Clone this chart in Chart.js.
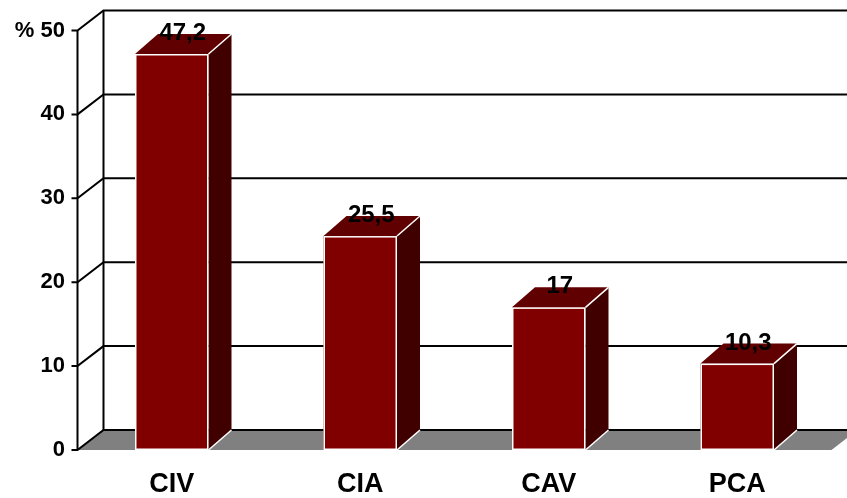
<!DOCTYPE html>
<html>
<head>
<meta charset="utf-8">
<script src="https://cdn.jsdelivr.net/npm/chart.js@4/dist/chart.umd.min.js"></script>
<style>
  html, body { margin: 0; padding: 0; background: #ffffff; }
  #wrap { width: 847px; height: 498px; position: relative; }
</style>
</head>
<body>
<div id="wrap"><canvas id="chart" width="847" height="498"></canvas></div>
<script>
// Categories and percentages
const categories = ['CIV', 'CIA', 'CAV', 'PCA'];
const percentages = [47.2, 25.5, 17, 10.3];
// Value axis ticks
const yTicks = [0, 10, 20, 30, 40, 50];

const FONT = '"Liberation Sans", Arial, Helvetica, sans-serif';
const WALL_DX = 26, WALL_DY = -20;   // depth of the walls/floor
const BAR_DX = 23, BAR_DY = -20;     // depth of each bar
const fmt = v => String(v).replace('.', ',');

// Floor, side wall and back wall with gridlines, drawn behind the bars
const walls3d = {
  id: 'walls3d',
  beforeDatasetsDraw(chart) {
    const { ctx, chartArea: a, scales: { y } } = chart;
    const y0 = y.getPixelForValue(0);
    ctx.save();
    // grey floor
    ctx.fillStyle = '#808080';
    ctx.beginPath();
    ctx.moveTo(a.left, y0);
    ctx.lineTo(a.right, y0);
    ctx.lineTo(a.right + WALL_DX, y0 + WALL_DY);
    ctx.lineTo(a.left + WALL_DX, y0 + WALL_DY);
    ctx.closePath();
    ctx.fill();

    ctx.strokeStyle = '#000000';
    ctx.lineWidth = 2;
    ctx.lineCap = 'butt';
    const top = y.getPixelForValue(yTicks[yTicks.length - 1]);
    // back wall left edge
    ctx.beginPath();
    ctx.moveTo(a.left + WALL_DX, top + WALL_DY);
    ctx.lineTo(a.left + WALL_DX, y0 + WALL_DY);
    ctx.stroke();
    // front value axis
    ctx.beginPath();
    ctx.moveTo(a.left, top);
    ctx.lineTo(a.left, y0);
    ctx.stroke();
    yTicks.forEach(v => {
      const py = y.getPixelForValue(v);
      ctx.beginPath();
      // tick mark
      ctx.moveTo(a.left - 6, py);
      ctx.lineTo(a.left, py);
      // side wall diagonal
      ctx.lineTo(a.left + WALL_DX, py + WALL_DY);
      // back wall gridline
      ctx.lineTo(chart.width + 2, py + WALL_DY);
      ctx.stroke();
    });
    ctx.restore();
  },
  afterDatasetsDraw(chart) {
    const { ctx } = chart;
    const meta = chart.getDatasetMeta(0);
    ctx.save();
    meta.data.forEach((bar, i) => {
      const { x, y, base, width } = bar.getProps(['x', 'y', 'base', 'width'], true);
      const l = x - width / 2, r = x + width / 2;
      ctx.strokeStyle = '#ffffff';
      ctx.lineWidth = 1.5;
      ctx.lineJoin = 'miter';
      // right side face
      ctx.fillStyle = '#400000';
      ctx.beginPath();
      ctx.moveTo(r, y);
      ctx.lineTo(r + BAR_DX, y + BAR_DY);
      ctx.lineTo(r + BAR_DX, base + BAR_DY);
      ctx.lineTo(r, base);
      ctx.closePath();
      ctx.fill();
      ctx.beginPath();
      ctx.moveTo(r, base);
      ctx.lineTo(r + BAR_DX, base + BAR_DY);
      ctx.stroke();
      // top face
      ctx.fillStyle = '#600000';
      ctx.beginPath();
      ctx.moveTo(l, y);
      ctx.lineTo(l + BAR_DX, y + BAR_DY);
      ctx.lineTo(r + BAR_DX, y + BAR_DY);
      ctx.lineTo(r, y);
      ctx.closePath();
      ctx.fill();
      ctx.beginPath();
      ctx.moveTo(r, y);
      ctx.lineTo(r + BAR_DX, y + BAR_DY);
      ctx.stroke();
      // front face outline
      ctx.strokeRect(l + 0.75, y + 0.75, width - 1.5, base - y - 1.5);
      // value label
      ctx.fillStyle = '#000000';
      ctx.font = 'bold 24px ' + FONT;
      ctx.textAlign = 'center';
      ctx.textBaseline = 'alphabetic';
      ctx.fillText(fmt(percentages[i]), x + 11, y - 14);
    });
    ctx.restore();
  }
};

new Chart(document.getElementById('chart'), {
  type: 'bar',
  data: {
    labels: categories,
    datasets: [{
      data: percentages,
      backgroundColor: '#800000',
      borderWidth: 0,
      barPercentage: 0.39,
      categoryPercentage: 1
    }]
  },
  options: {
    responsive: false,
    animation: false,
    devicePixelRatio: 1,
    layout: { padding: { top: 30.5, right: 15.5, left: 0, bottom: 0 } },
    plugins: { legend: { display: false }, tooltip: { enabled: false } },
    scales: {
      x: {
        grid: { display: false, drawTicks: false },
        border: { display: false },
        ticks: { color: '#000000', font: { family: FONT, size: 27, weight: 'bold' }, padding: 18 },
        afterFit(s) { s.height = 48; }
      },
      y: {
        min: 0,
        max: 50,
        afterBuildTicks(s) { s.ticks = yTicks.map(v => ({ value: v })); },
        grid: { display: false, drawTicks: false },
        border: { display: false },
        ticks: {
          color: '#000000',
          font: { family: FONT, size: 22, weight: 'bold' },
          padding: 12.5,
          callback: v => (v === yTicks[yTicks.length - 1] ? '% ' + v : String(v))
        },
        afterFit(s) { s.width = 77.5; }
      }
    }
  },
  plugins: [walls3d]
});
</script>
</body>
</html>
